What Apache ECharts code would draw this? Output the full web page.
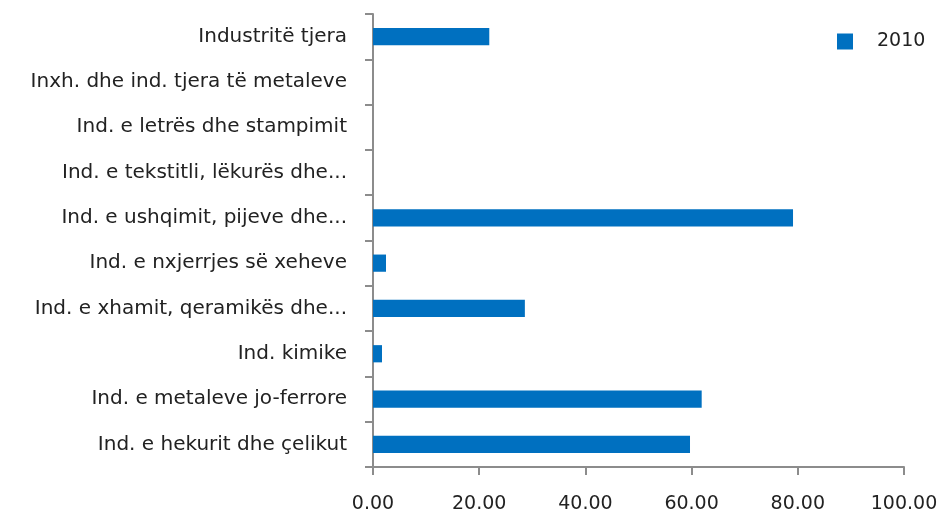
<!DOCTYPE html>
<html>
<head>
<meta charset="utf-8">
<script src="https://cdn.jsdelivr.net/npm/echarts@6/dist/echarts.min.js"></script>
<style>
html,body{margin:0;padding:0;background:#fff;}
#chart{width:944px;height:514px;}
</style>
</head>
<body>
<div id="chart"></div>
<script>
// kategorite nga poshte lart
var categories = [
    'Ind. e hekurit dhe çelikut',
    'Ind. e metaleve jo-ferrore',
    'Ind. kimike',
    'Ind. e xhamit, qeramikës dhe...',
    'Ind. e nxjerrjes së xeheve',
    'Ind. e ushqimit, pijeve dhe...',
    'Ind. e tekstitli, lëkurës dhe...',
    'Ind. e letrës dhe stampimit',
    'Inxh. dhe ind. tjera të metaleve',
    'Industritë tjera'
];
var values2010 = [59.7, 61.9, 1.7, 28.6, 2.45, 79.1, 0, 0, 0, 21.9];
var seriesName = '2010';

var chart = echarts.init(document.getElementById('chart'));
var font = '"DejaVu Sans", sans-serif';

var option = {
    animation: false,
    textStyle: {fontFamily: font},
    legend: {
        left: 832,
        top: 27,
        icon: 'rect',
        itemWidth: 16,
        itemHeight: 16,
        itemGap: 10,
        textStyle: {fontSize: 19, color: '#222', padding: [0, 0, 0, 19]},
        data: [seriesName]
    },
    grid: {
        left: 373,
        right: 40,
        top: 14,
        bottom: 46,
        containLabel: false
    },
    xAxis: {
        type: 'value',
        min: 0,
        max: 100,
        interval: 20,
        axisLine: {show: true, lineStyle: {color: '#8c8c8c', width: 2}},
        axisTick: {show: true, length: 8, lineStyle: {color: '#8c8c8c', width: 2}},
        splitLine: {show: false},
        axisLabel: {
            fontSize: 19,
            color: '#222',
            margin: 28,
            formatter: function (v) { return v.toFixed(2); }
        }
    },
    yAxis: {
        type: 'category',
        data: categories,
        axisLine: {lineStyle: {color: '#8c8c8c', width: 2}},
        axisTick: {show: true, length: 8, lineStyle: {color: '#8c8c8c', width: 2}},
        axisLabel: {fontSize: 20, color: '#222', margin: 26}
    },
    series: [{
        name: seriesName,
        type: 'bar',
        data: values2010,
        barWidth: '38%',
        itemStyle: {color: '#0070c0'}
    }]
};

chart.setOption(option);
</script>
</body>
</html>
